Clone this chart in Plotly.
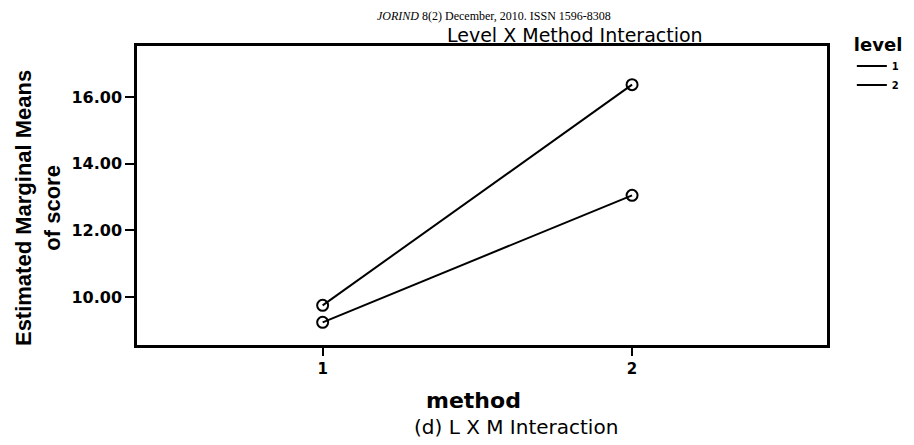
import plotly.graph_objects as go

methods = [1, 2]
levels = ["1", "2"]
means_level1 = [9.75, 16.37]
means_level2 = [9.24, 13.05]
y_ticks = [10, 12, 14, 16]
y_tick_labels = ["10.00", "12.00", "14.00", "16.00"]
x_ticks = [1, 2]
x_tick_labels = ["1", "2"]

WIDE = "DejaVu Sans, Verdana, sans-serif"
ARIAL = "Liberation Sans, Arial, sans-serif"

fig = go.Figure()
for name, vals in zip(levels, [means_level1, means_level2]):
    fig.add_trace(go.Scatter(
        x=methods, y=vals, mode="lines+markers", showlegend=False,
        line=dict(color="black", width=2),
        marker=dict(symbol="circle-open", size=11, color="black", line=dict(width=2)),
    ))
    fig.add_trace(go.Scatter(
        x=[None], y=[None], mode="lines", name=name,
        line=dict(color="black", width=2),
    ))

# page has an 8px body margin, so the figure is 8px smaller on each side
fig.update_layout(
    width=906, height=437,
    margin=dict(l=129, r=87, t=38, b=100, autoexpand=False),
    paper_bgcolor="white", plot_bgcolor="white",
    font=dict(family=WIDE, color="black"),
    xaxis=dict(range=[0.4, 2.63], tickvals=x_ticks, ticktext=x_tick_labels,
               showline=True, mirror=True, linecolor="black", linewidth=2.5,
               ticks="outside", ticklen=8, tickwidth=2, tickcolor="black",
               showgrid=False, zeroline=False, automargin=False,
               tickfont=dict(family=WIDE, size=15, color="black", weight="bold")),
    yaxis=dict(range=[8.56, 17.53], tickvals=y_ticks, ticktext=y_tick_labels,
               showline=True, mirror=True, linecolor="black", linewidth=2.5,
               ticks="outside", ticklen=9, tickwidth=2, tickcolor="black",
               showgrid=False, zeroline=False, automargin=False,
               tickfont=dict(family=WIDE, size=16, color="black", weight="bold")),
    legend=dict(x=1.036, y=1.06, xanchor="left", yanchor="top",
                title=dict(text="level", font=dict(family=WIDE, size=18)),
                font=dict(family=WIDE, size=10, weight="bold"), itemwidth=30,
                bgcolor="rgba(0,0,0,0)", tracegroupgap=0),
)

fig.add_annotation(text="Level X Method Interaction", xref="paper", yref="paper",
                   x=0.635, y=1.0, xanchor="center", yanchor="middle", showarrow=False,
                   yshift=11, font=dict(family=WIDE, size=19, color="black"))
fig.add_annotation(text="<i>JORIND</i> 8(2) December, 2010. ISSN 1596-8308",
                   xref="paper", yref="paper", x=(375 - 137) / 690, y=1.0,
                   xanchor="left", yanchor="middle", showarrow=False, yshift=30,
                   font=dict(family="Liberation Serif, Times New Roman, serif", size=12, color="black"))
fig.add_annotation(text="<b>Estimated Marginal Means<br>of score</b>", xref="paper", yref="paper",
                   x=-0.1435, y=0.458, xanchor="center", yanchor="middle", showarrow=False,
                   textangle=-90, font=dict(family=ARIAL, size=22, color="black"))
fig.add_annotation(text="<b>method</b>", xref="paper", yref="paper",
                   x=0.488, y=0, xanchor="center", yanchor="middle", showarrow=False,
                   yshift=-55, font=dict(family=WIDE, size=22, color="black"))
fig.add_annotation(text="(d) L X M Interaction", xref="paper", yref="paper",
                   x=0.549, y=0, xanchor="center", yanchor="middle", showarrow=False,
                   yshift=-82, font=dict(family=WIDE, size=20, color="black"))

fig.write_html("out.html")
